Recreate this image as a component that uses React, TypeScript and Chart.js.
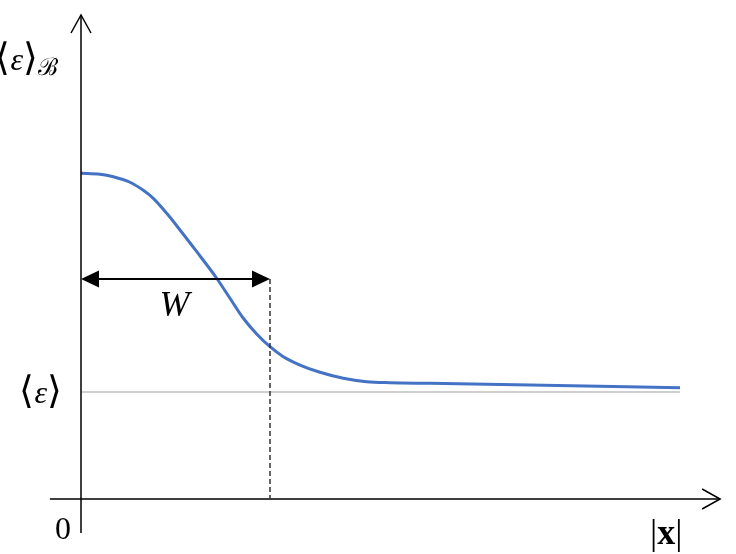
import React, { useEffect, useRef } from "react";
import { Chart, registerables } from "chart.js";

Chart.register(...registerables);

// |x| positions (arbitrary units) and the profile value ⟨ε⟩_B
const xValues = [0, 0.317, 0.539, 0.818, 1.04, 1.207, 1.431, 1.653, 1.932, 2.265, 2.487, 2.71, 2.933, 3.155, 3.377, 3.656, 3.99, 4.379, 4.77, 5.159, 5.826, 7.496, 10];
const epsB = [3.044, 3.035, 3.012, 2.96, 2.885, 2.81, 2.67, 2.514, 2.311, 2.063, 1.876, 1.689, 1.542, 1.423, 1.33, 1.252, 1.184, 1.128, 1.096, 1.087, 1.081, 1.065, 1.04];
// mean value ⟨ε⟩
const epsMean = 1.0;
const baselineX = [0, 10];
// width W and the height of the W arrow
const widthW = 3.155;
const arrowLevel = 2.056;
// axis extents (data units)
const xAxisRange = [-0.52, 10.67];
const yAxisRange = [-0.318, 4.523];

const SERIF = '"Liberation Serif", "Times New Roman", serif';

export default function App() {
  const ref = useRef<HTMLCanvasElement | null>(null);

  useEffect(() => {
    if (!ref.current) return;
    document.body.style.margin = "0";

    const overlay = {
      id: "overlay",
      afterDraw(chart: any) {
        const ctx = chart.ctx as CanvasRenderingContext2D;
        const xs = chart.scales.x;
        const ys = chart.scales.y;
        const px = (v: number) => xs.getPixelForValue(v);
        const py = (v: number) => ys.getPixelForValue(v);
        const x0 = px(0);
        const y0 = py(0);
        ctx.save();

        // axes
        ctx.strokeStyle = "#000";
        ctx.lineWidth = 1.5;
        ctx.beginPath();
        ctx.moveTo(x0, py(yAxisRange[0]));
        ctx.lineTo(x0, py(yAxisRange[1]));
        ctx.moveTo(px(xAxisRange[0]), y0);
        ctx.lineTo(px(xAxisRange[1]), y0);
        ctx.stroke();
        // open arrowheads
        const yt = py(yAxisRange[1]);
        ctx.beginPath();
        ctx.moveTo(x0 - 10, yt + 18);
        ctx.lineTo(x0, yt);
        ctx.lineTo(x0 + 10, yt + 18);
        const xt = px(xAxisRange[1]);
        ctx.moveTo(xt - 18, y0 - 10);
        ctx.lineTo(xt, y0);
        ctx.lineTo(xt - 18, y0 + 10);
        ctx.stroke();

        // dashed vertical at W
        const xw = px(widthW);
        const ya = py(arrowLevel);
        ctx.strokeStyle = "#333";
        ctx.lineWidth = 1.5;
        ctx.setLineDash([5, 3]);
        ctx.beginPath();
        ctx.moveTo(xw, ya);
        ctx.lineTo(xw, y0);
        ctx.stroke();
        ctx.setLineDash([]);

        // double arrow
        ctx.strokeStyle = "#000";
        ctx.lineWidth = 2;
        ctx.beginPath();
        ctx.moveTo(x0 + 10, ya);
        ctx.lineTo(xw - 10, ya);
        ctx.stroke();
        ctx.fillStyle = "#000";
        ctx.beginPath();
        ctx.moveTo(x0, ya);
        ctx.lineTo(x0 + 18, ya - 8.5);
        ctx.lineTo(x0 + 18, ya + 8.5);
        ctx.closePath();
        ctx.fill();
        ctx.beginPath();
        ctx.moveTo(xw, ya);
        ctx.lineTo(xw - 18, ya - 8.5);
        ctx.lineTo(xw - 18, ya + 8.5);
        ctx.closePath();
        ctx.fill();

        // text helper: draw sequence of runs
        const runs = (parts: { t: string; f: string; dy?: number }[], x: number, y: number, align: "left" | "right") => {
          let w = 0;
          for (const p of parts) { ctx.font = p.f; w += ctx.measureText(p.t).width; }
          let cx = align === "left" ? x : x - w;
          ctx.textBaseline = "alphabetic";
          ctx.textAlign = "left";
          for (const p of parts) {
            ctx.font = p.f;
            ctx.fillText(p.t, cx, y + (p.dy || 0));
            cx += ctx.measureText(p.t).width;
          }
        };
        ctx.fillStyle = "#000";
        const br = `38px ${SERIF}`;
        const it = `italic 32px ${SERIF}`;
        // ⟨ε⟩_B at top of y axis
        runs([
          { t: "⟨", f: br },
          { t: "ε", f: it },
          { t: "⟩", f: br },
          { t: "ℬ", f: `24px ${SERIF}`, dy: 5 },
        ], x0 - 23, py(yAxisRange[1]) + 55, "right");
        // ⟨ε⟩ at mean level
        runs([
          { t: "⟨", f: br },
          { t: "ε", f: it },
          { t: "⟩", f: br },
        ], x0 - 19, py(epsMean) + 11, "right");
        // 0
        ctx.font = `32px ${SERIF}`;
        ctx.textAlign = "right";
        ctx.fillText("0", x0 - 10, y0 + 40);
        // W
        ctx.font = `italic 36px ${SERIF}`;
        ctx.textAlign = "center";
        ctx.fillText("W", (x0 + xw) / 2 - 1, ya + 37);
        // |x|
        runs([
          { t: "|", f: `36px ${SERIF}` },
          { t: "x", f: `bold 36px ${SERIF}` },
          { t: "|", f: `36px ${SERIF}` },
        ], px(10) - 30, y0 + 45, "left");

        ctx.restore();
      },
    };

    const chart = new Chart(ref.current, {
      type: "line",
      data: {
        datasets: [
          {
            data: xValues.map((x, i) => ({ x, y: epsB[i] })),
            borderColor: "#4472C4",
            borderWidth: 3,
            pointRadius: 0,
            cubicInterpolationMode: "monotone",
            fill: false,
            clip: false as any,
            order: 0,
          },
          {
            data: baselineX.map((x) => ({ x, y: epsMean })),
            borderColor: "#BFBFBF",
            borderWidth: 1.5,
            pointRadius: 0,
            fill: false,
            clip: false as any,
            order: 1,
          },
        ],
      },
      options: {
        responsive: false,
        animation: false,
        layout: { padding: { left: 81, right: 56, top: 15, bottom: 55 } },
        plugins: { legend: { display: false }, tooltip: { enabled: false } },
        scales: {
          x: { type: "linear", display: false, min: 0, max: 10 },
          y: { type: "linear", display: false, min: 0, max: yAxisRange[1] },
        },
      },
      plugins: [overlay],
    });
    return () => chart.destroy();
  }, []);

  return (
    <div style={{ position: "absolute", left: 0, top: 0, width: 736, height: 554 }}>
      <canvas ref={ref} width={736} height={554} />
    </div>
  );
}
